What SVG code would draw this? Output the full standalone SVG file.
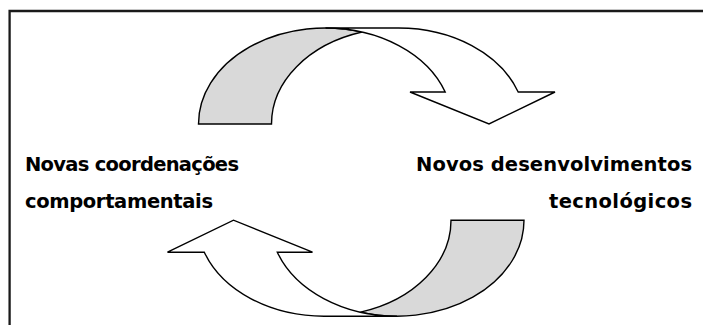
<svg xmlns="http://www.w3.org/2000/svg" width="703" height="325" viewBox="0 0 703 325">
<defs>
<style>
.frame{fill:none;stroke:#1a1a1a;stroke-width:2.3}
.back{fill:#d9d9d9;stroke:#000;stroke-width:1.4;stroke-linejoin:miter}
.front{fill:#fff;stroke:#000;stroke-width:1.4;stroke-linejoin:miter}
.lbl{font-family:"DejaVu Sans","Liberation Sans",sans-serif;font-weight:bold;font-size:19.5px;fill:#000}
</style>
<g id="curved-arrow">
<path class="back" d="M198.5,124 A127,96 0 0 1 362,32.05 A127,96 0 0 0 271.5,124 Z"/>
<path class="front" d="M325.5,28 L398.5,28 A127,96 0 0 1 518.2,92 L555,92 L489,124 L410,92 L445.2,92 A127,96 0 0 0 325.5,28 Z"/>
</g>
</defs>
<rect width="703" height="325" fill="#fff"/>
<g id="frame">
<path class="frame" d="M9.6,325 L9.6,11 L703,11"/>
</g>
<g id="connectors">
<use id="arrow-top" href="#curved-arrow"/>
<use id="arrow-bottom" href="#curved-arrow" transform="rotate(180 361.25 172.1)"/>
</g>
<g id="node-left">
<text class="lbl" x="25" y="171" textLength="214" lengthAdjust="spacing">Novas coordenações</text>
<text class="lbl" x="25" y="208" textLength="188" lengthAdjust="spacing">comportamentais</text>
</g>
<g id="node-right">
<text class="lbl" x="416" y="171" textLength="276" lengthAdjust="spacing">Novos desenvolvimentos</text>
<text class="lbl" x="549" y="208" textLength="143" lengthAdjust="spacing">tecnológicos</text>
</g>
</svg>
